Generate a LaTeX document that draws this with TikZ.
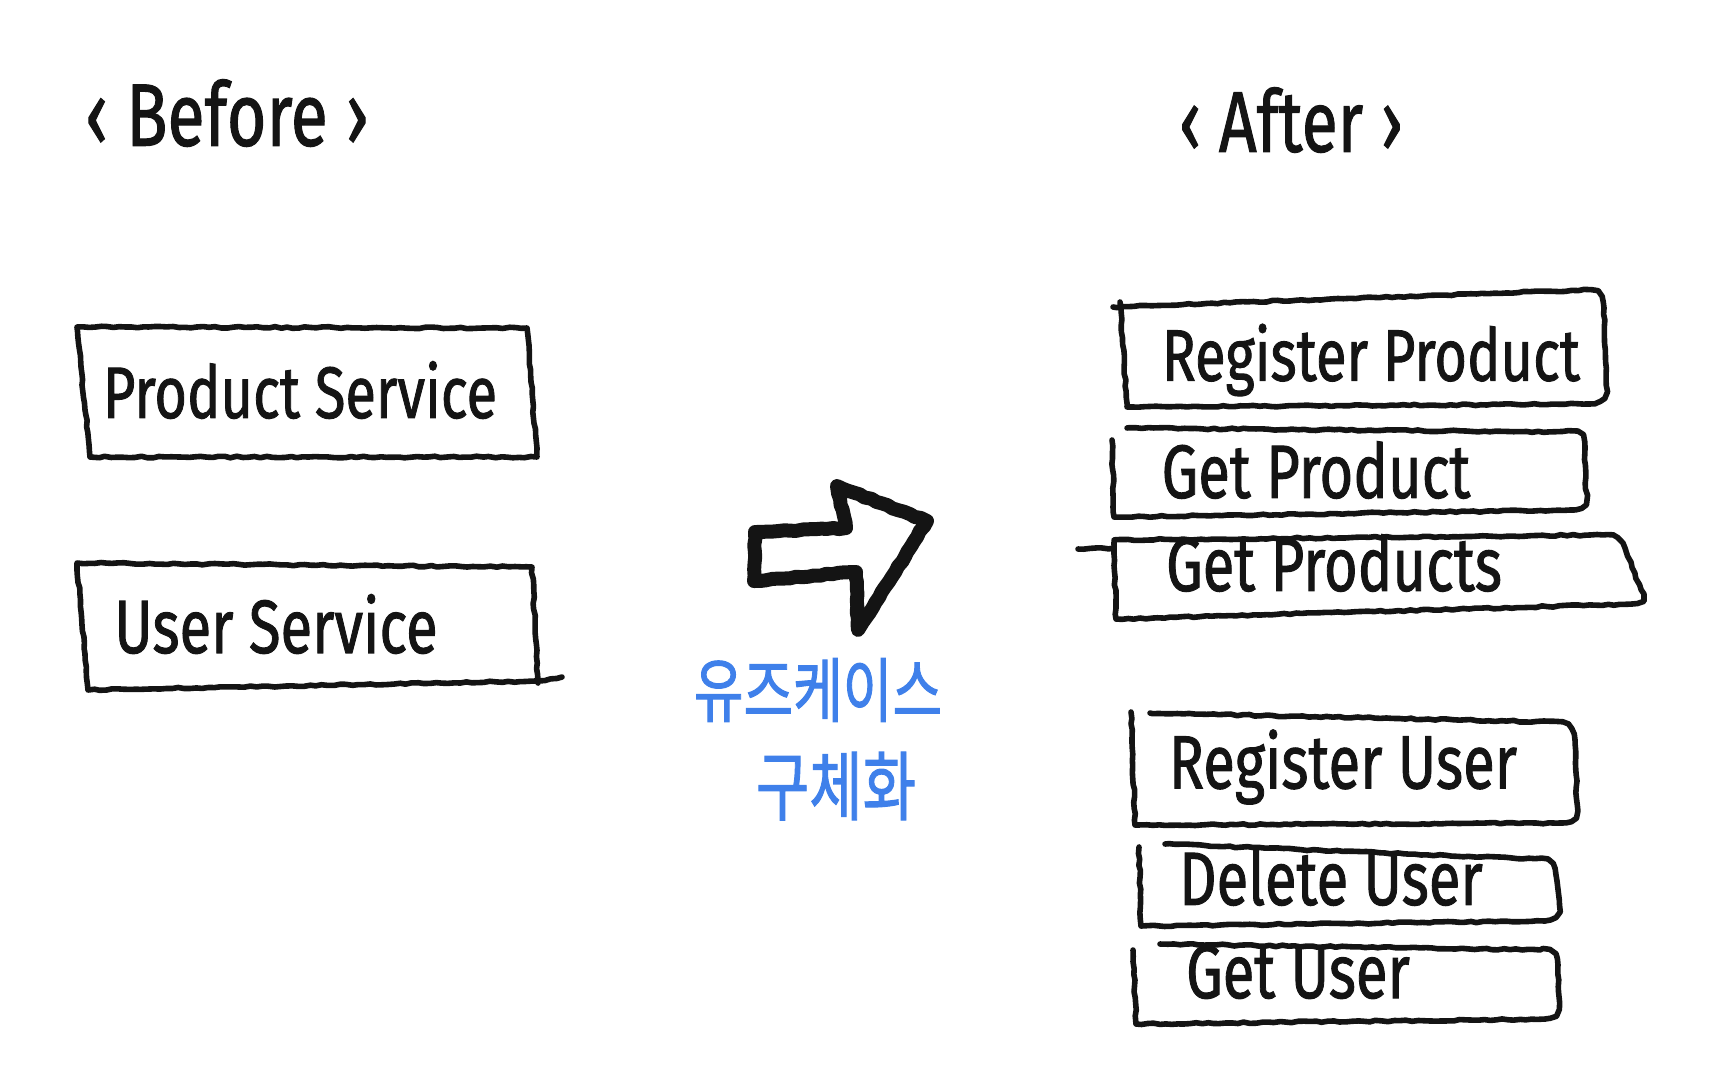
\documentclass[tikz,border=0pt]{standalone}
\usepackage{fontspec}
\setmainfont{Fira Sans}[FakeBold=1.4]
\newfontfamily\kor{Noto Sans CJK KR}[FakeBold=1.6]
\usetikzlibrary{decorations.pathmorphing}
\definecolor{pen}{HTML}{141414}
\definecolor{kblue}{HTML}{3F80EA}
\newcommand{\hand}[1]{\scalebox{1}[1.3]{#1}}

\begin{document}
\begin{tikzpicture}[x=0.5pt,y=-0.5pt]
	\pgfmathsetseed{7}
	\tikzstyle{Pencil} = [draw=pen, line width=2.8pt, line join=round, line cap=round, decorate, decoration={random steps, segment length=3pt, amplitude=0.4pt}]
	\tikzstyle{Label} = [text=pen, font=\fontsize{29}{32}\selectfont, inner sep=0pt]
	\tikzstyle{Korean} = [text=kblue, font=\kor\fontsize{27}{30}\selectfont, inner sep=0pt]
	\useasboundingbox (0,0) rectangle (1716,1084);
	% titles
	\node (before) at (227,113) [Label, font=\fontsize{34}{36}\selectfont] {\hand{‹ Before ›}};
	\node (after) at (1291,120) [Label, font=\fontsize{33}{36}\selectfont] {\hand{‹ After ›}};
	% before
	\draw[Pencil] (77,327) -- (527,328) -- (537,457) -- (90,457) -- cycle;
	\node (product) at (300,390) [Label, font=\fontsize{28}{32}\selectfont] {\hand{Product Service}};
	\draw[Pencil] (562,677) -- (538,681) -- (88,690) -- (77,563) -- (532,567) -- (538,683);
	\node (user) at (276,624) [Label] {\hand{User Service}};
	% arrow
	\draw[Pencil, line width=7pt] (755,532) -- (846,528) -- (837,486) -- (927,521) -- (858,630) -- (856,572) -- (754,581) -- cycle;
	\node (kor1) at (818,690) [Korean] {\hand{유즈케이스}};
	\node (kor2) at (836,786) [Korean, font=\kor\fontsize{29}{30}\selectfont] {\hand{구체화}};
	% after
	\draw[Pencil] (1120,302) -- (1127,407) -- (1588,404) .. controls (1606,403) and (1606,395) .. (1606,380) -- (1604,308) .. controls (1603,292) and (1598,290) .. (1584,290) -- (1113,307);
	\node (regprod) at (1371,360) [Label, font=\fontsize{28}{32}\selectfont] {\hand{Register Product}};
	\draw[Pencil] (1112,440) -- (1114,517) -- (1570,510) .. controls (1584,510) and (1586,505) .. (1586,495) -- (1585,447) .. controls (1585,435) and (1580,432) .. (1568,432) -- (1127,428);
	\node (getprod) at (1316,470) [Label] {\hand{Get Product}};
	\draw[Pencil] (1078,549) -- (1114,548);
	\draw[Pencil] (1114,542) -- (1116,619) -- (1632,604) .. controls (1645,603) and (1644,597) .. (1641,590) -- (1625,548) .. controls (1620,537) and (1615,535) .. (1603,535) -- (1114,540);
	\node (getprods) at (1334,563) [Label] {\hand{Get Products}};
	\draw[Pencil] (1131,712) -- (1135,825) -- (1560,823) .. controls (1576,823) and (1577,815) .. (1577,805) -- (1575,740) .. controls (1574,727) and (1568,722) .. (1555,722) -- (1150,713);
	\node (reguser) at (1343,767) [Label] {\hand{Register User}};
	\draw[Pencil] (1139,847) -- (1141,926) -- (1545,921) .. controls (1558,920) and (1560,912) .. (1559,900) -- (1556,875) .. controls (1554,862) and (1548,859) .. (1535,859) -- (1165,844);
	\node (deluser) at (1331,877) [Label] {\hand{Delete User}};
	\draw[Pencil] (1133,950) -- (1136,1024) -- (1545,1019) .. controls (1558,1018) and (1559,1010) .. (1559,998) -- (1558,965) .. controls (1557,952) and (1552,950) .. (1540,950) -- (1160,944);
	\node (getuser) at (1298,972) [Label] {\hand{Get User}};
\end{tikzpicture}
\end{document}
